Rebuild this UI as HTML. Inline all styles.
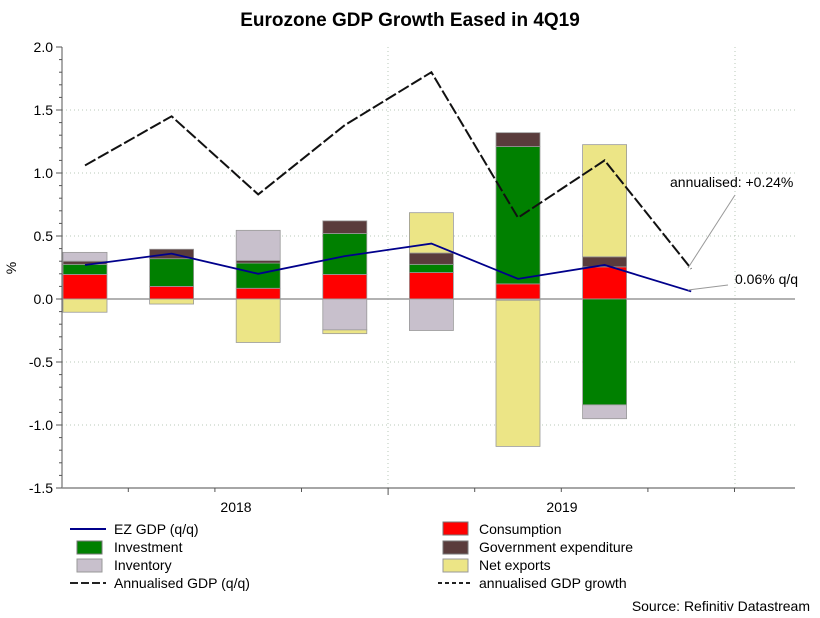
<!DOCTYPE html>
<html><head><meta charset="utf-8"><style>
body{margin:0;background:#fff;font-family:"Liberation Sans",Arial,sans-serif}
svg text{font-family:"Liberation Sans",Arial,sans-serif}
</style></head><body>
<svg id="c" width="820" height="613" xmlns="http://www.w3.org/2000/svg">
<text x="410" y="26" text-anchor="middle" font-size="19" font-weight="bold">Eurozone GDP Growth Eased in 4Q19</text>
<g id="grid"></g><g id="bars"></g><g id="lines"></g><g id="axes"></g>
<g>
<line x1="688" y1="268" x2="735" y2="195" stroke="#999" stroke-width="1"/>
<text x="670" y="187" font-size="14">annualised: +0.24%</text>
<line x1="688" y1="290" x2="728" y2="285" stroke="#999" stroke-width="1"/>
<text x="735" y="284" font-size="14">0.06% q/q</text>
</g>
<g id="legend" font-size="14">
<g><line x1="70" y1="529" x2="106" y2="529" stroke="#00008b" stroke-width="2"/><text x="114" y="534">EZ GDP (q/q)</text></g>
<g><rect x="77" y="541" width="25" height="13" fill="#008000" stroke="#777"/><text x="114" y="552">Investment</text></g>
<g><rect x="77" y="559" width="25" height="13" fill="#c8c0cc" stroke="#999"/><text x="114" y="570">Inventory</text></g>
<g><line x1="70" y1="583" x2="106" y2="583" stroke="#222" stroke-width="2" stroke-dasharray="8,3"/><text x="114" y="588">Annualised GDP (q/q)</text></g>
<g><rect x="443" y="522" width="25" height="13" fill="#ff0000" stroke="#777"/><text x="479" y="534">Consumption</text></g>
<g><rect x="443" y="541" width="25" height="13" fill="#5a3c3c" stroke="#777"/><text x="479" y="552">Government expenditure</text></g>
<g><rect x="443" y="559" width="25" height="13" fill="#ece586" stroke="#999"/><text x="479" y="570">Net exports</text></g>
<g><line x1="438" y1="583" x2="472" y2="583" stroke="#222" stroke-width="2" stroke-dasharray="4,3"/><text x="479" y="588">annualised GDP growth</text></g>
</g>
<text x="810" y="611" text-anchor="end" font-size="14">Source: Refinitiv Datastream</text>
</svg>
<script>
const quarters=["1Q18","2Q18","3Q18","4Q18","1Q19","2Q19","3Q19","4Q19"];
const consumption=[0.195,0.10,0.085,0.195,0.21,0.12,0.255];
const investment=[0.08,0.22,0.20,0.325,0.065,1.09,-0.84];
const government=[0.025,0.075,0.02,0.10,0.09,0.11,0.08];
const inventory=[0.07,0,0.24,-0.245,-0.25,-0.01,-0.11];
const netExports=[-0.105,-0.04,-0.345,-0.03,0.32,-1.16,0.89];
const ezGdp=[0.27,0.36,0.20,0.34,0.44,0.16,0.27,0.06];
const annualised=[1.06,1.45,0.83,1.38,1.80,0.645,1.10,0.24];
const yTicks=[2.0,1.5,1.0,0.5,0.0,-0.5,-1.0,-1.5];
const years=["2018","2019"];
const NS="http://www.w3.org/2000/svg";
const X0=62,X1=795,Y0=47,Y1=488;
const y=v=>299-v*126;
const xc=i=>85+i*86.6;
function mk(t,a,p){const e=document.createElementNS(NS,t);for(const k in a)e.setAttribute(k,a[k]);document.getElementById(p).appendChild(e);return e;}
// grid
yTicks.forEach(v=>{if(v!==0&&v!==-1.5&&v!==2.0){const g=mk('line',{x1:X0,x2:X1,y1:y(v),y2:y(v),stroke:'#b8c8b8','stroke-dasharray':'1,3'},'grid');

}});
[388,735].forEach(x=>{const g=mk('line',{x1:x,x2:x,y1:Y0,y2:Y1,stroke:'#b8c8b8','stroke-dasharray':'1,3'},'grid');

});
const z=mk('line',{x1:X0,x2:X1,y1:y(0),y2:y(0),stroke:'#999','stroke-width':1.5},'grid');


// bars
const series=[[consumption,'#ff0000','consumption'],[investment,'#008000','investment'],[government,'#5a3c3c','government'],[inventory,'#c8c0cc','inventory'],[netExports,'#ece586','net-exports']];
for(let i=0;i<consumption.length;i++){let pos=0,neg=0;
series.forEach(([arr,col,nm])=>{const v=arr[i];if(!v)return;let a,b;if(v>0){a=pos;b=pos+v;pos=b;}else{a=neg;b=neg+v;neg=b;}
const r=mk('rect',{x:xc(i)-22,width:44,y:y(Math.max(a,b)),height:Math.abs(y(a)-y(b)),fill:col,stroke:'#999','stroke-width':0.8},'bars');

});}
// lines
const l1=mk('polyline',{points:annualised.map((v,i)=>xc(i)+','+y(v)).join(' '),fill:'none',stroke:'#111','stroke-width':2,'stroke-dasharray':'12,3'},'lines');


const l2=mk('polyline',{points:ezGdp.map((v,i)=>xc(i)+','+y(v)).join(' '),fill:'none',stroke:'#00008b','stroke-width':1.8},'lines');


// axes
const ya=mk('line',{x1:X0,x2:X0,y1:Y0,y2:Y1,stroke:'#555'},'axes');


const xa=mk('line',{x1:X0,x2:X1,y1:Y1,y2:Y1,stroke:'#888','stroke-width':1.5},'axes');


for(let v=-1.5;v<=2.001;v+=0.1){const t=mk('line',{x1:X0-(Math.abs(v*2-Math.round(v*2))<0.01?6:3),x2:X0,y1:y(v),y2:y(v),stroke:'#555'},'axes');

}
yTicks.forEach(v=>{const t=mk('text',{x:53,y:y(v)+5,'text-anchor':'end','font-size':14},'axes');t.textContent=v.toFixed(1);

});
const yt=mk('text',{x:16,y:268,'text-anchor':'middle','font-size':14,transform:'rotate(-90 16 268)'},'axes');yt.textContent='%';


for(let i=0;i<8;i++){const bx=xc(i)+43.3;const t=mk('line',{x1:bx,x2:bx,y1:Y1,y2:Y1+(i==3?7:4),stroke:'#555'},'axes');

}
years.forEach((yr,k)=>{const t=mk('text',{x:k?562:236,y:512,'text-anchor':'middle','font-size':14},'axes');t.textContent=yr;

});
</script>
</body></html>
